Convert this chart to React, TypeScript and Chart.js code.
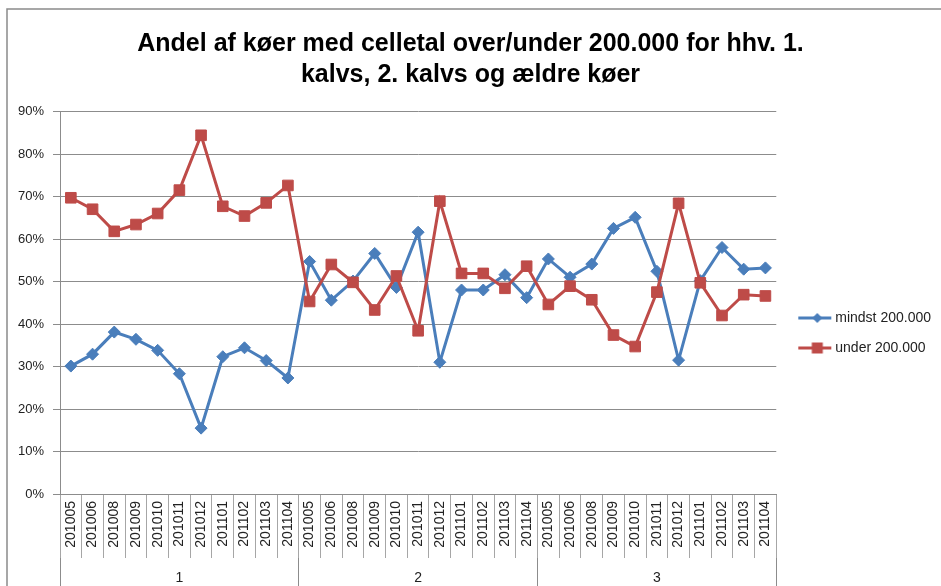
import React, { useEffect, useRef } from 'react';
import { Chart, registerables } from 'chart.js';

Chart.register(...registerables);

const months = ['201005', '201006', '201008', '201009', '201010', '201011', '201012', '201101', '201102', '201103', '201104'];
const groups = ['1', '2', '3'];

const mindst = [
  30.1, 32.9, 38.1, 36.4, 33.8, 28.3, 15.5, 32.3, 34.4, 31.4, 27.3,
  54.7, 45.6, 50.1, 56.6, 48.6, 61.6, 31.0, 48.0, 48.0, 51.6, 46.2,
  55.3, 51.0, 54.1, 62.5, 65.1, 52.4, 31.5, 50.2, 58.0, 52.9, 53.2,
];
const under = [
  69.7, 67.0, 61.8, 63.4, 66.0, 71.5, 84.4, 67.7, 65.4, 68.5, 72.6,
  45.3, 54.0, 49.8, 43.3, 51.3, 38.4, 68.9, 51.9, 51.9, 48.4, 53.6,
  44.6, 48.9, 45.7, 37.4, 34.7, 47.5, 68.4, 49.7, 42.0, 46.9, 46.6,
];
const yTickValues = [0, 10, 20, 30, 40, 50, 60, 70, 80, 90];
const titleLines = ['Andel af køer med celletal over/under 200.000 for hhv. 1.', 'kalvs, 2. kalvs og ældre køer'];
const seriesNames = ['mindst 200.000', 'under 200.000'];

const categories = groups.flatMap(() => months);
const groupLabels = groups.flatMap((g) => months.map((_, i) => (i === Math.floor(months.length / 2) ? g : '')));

const BLUE = '#4A7EBB';
const RED = '#BE4B48';
const FAMILY = '"Liberation Sans", Arial, sans-serif';

function legendIcon(color: string, kind: 'diamond' | 'square'): HTMLCanvasElement {
  const c = document.createElement('canvas');
  c.width = 48;
  c.height = 16;
  const g = c.getContext('2d')!;
  g.strokeStyle = color;
  g.lineWidth = 3;
  g.beginPath();
  g.moveTo(12, 8);
  g.lineTo(45, 8);
  g.stroke();
  g.fillStyle = color;
  g.beginPath();
  if (kind === 'diamond') {
    g.moveTo(31 - 5, 8);
    g.lineTo(31, 3);
    g.lineTo(31 + 5, 8);
    g.lineTo(31, 13);
    g.closePath();
  } else {
    g.rect(31 - 5.5, 8 - 5.5, 11, 11);
  }
  g.fill();
  return c;
}

const framePlugin = {
  id: 'frame',
  beforeDraw(chart: any) {
    const { ctx } = chart;
    ctx.save();
    ctx.fillStyle = '#ffffff';
    ctx.fillRect(0, 0, chart.width, chart.height);
    ctx.strokeStyle = '#8a8a8a';
    ctx.lineWidth = 1.5;
    ctx.strokeRect(7, 9, chart.width + 20, chart.height + 20);
    ctx.restore();
  },
};

export default function App() {
  const ref = useRef<HTMLCanvasElement | null>(null);

  useEffect(() => {
    if (!ref.current) return;
    const icons = [legendIcon(BLUE, 'diamond'), legendIcon(RED, 'square')];
    const chart = new Chart(ref.current, {
      type: 'line',
      data: {
        labels: categories,
        datasets: [
          {
            label: seriesNames[0],
            data: mindst,
            borderColor: BLUE,
            backgroundColor: BLUE,
            borderWidth: 3,
            pointStyle: 'rectRot',
            pointRadius: 6,
            pointBorderWidth: 1,
            pointBackgroundColor: BLUE,
            pointBorderColor: BLUE,
            tension: 0,
            order: 1,
          },
          {
            label: seriesNames[1],
            data: under,
            borderColor: RED,
            backgroundColor: RED,
            borderWidth: 3,
            pointStyle: 'rect',
            pointRadius: 7.5,
            pointBorderWidth: 1,
            pointBackgroundColor: RED,
            pointBorderColor: RED,
            tension: 0,
            order: 0,
          },
        ],
      },
      options: {
        responsive: false,
        animation: false,
        layout: { padding: { left: 0, right: 0, top: 0, bottom: 0 } },
        font: { family: FAMILY },
        plugins: {
          tooltip: { enabled: false },
          title: {
            display: true,
            text: titleLines,
            color: '#000',
            font: { family: FAMILY, size: 25, weight: 'bold', lineHeight: 1.25 },
            padding: { top: 28, bottom: 21 },
          },
          legend: {
            display: true,
            position: 'right',
            align: 'center',
            title: { display: true, text: '', padding: { top: 79, bottom: 0 }, font: { size: 1, lineHeight: 1 } },
            labels: {
              usePointStyle: true,
              pointStyleWidth: 36,
              padding: 16,
              color: '#222',
              font: { family: FAMILY, size: 14 },
              sort: (a: any, b: any) => a.datasetIndex - b.datasetIndex,
              generateLabels: (ch: any) => {
                const items = (Chart.defaults.plugins.legend.labels as any).generateLabels(ch);
                items.forEach((it: any) => {
                  it.pointStyle = icons[it.datasetIndex];
                });
                return items;
              },
            },
          },
        },
        scales: {
          y: {
            min: 0,
            max: 90,
            afterBuildTicks: (s: any) => {
              s.ticks = yTickValues.map((v) => ({ value: v }));
            },
            afterFit: (s: any) => {
              s.width = 60;
            },
            ticks: {
              callback: (v: any) => v + '%',
              color: '#222',
              font: { family: FAMILY, size: 13 },
              padding: 9,
            },
            grid: { color: '#8c8c8c', tickLength: 7, lineWidth: 1 },
            border: { color: '#8c8c8c', width: 1 },
          },
          x: {
            type: 'category',
            position: 'bottom',
            offset: true,
            weight: 0,
            afterFit: (s: any) => {
              s.height = 64;
            },
            grid: { offset: true, drawOnChartArea: false, tickLength: 64, color: '#a6a6a6' },
            border: { display: true, color: '#8c8c8c' },
            ticks: {
              autoSkip: false,
              minRotation: 90,
              maxRotation: 90,
              padding: -57,
              color: '#222',
              font: { family: FAMILY, size: 14 },
            },
          },
          x2: {
            type: 'category',
            position: 'bottom',
            labels: groupLabels,
            offset: true,
            weight: 1,
            afterFit: (s: any) => {
              s.height = 28;
            },
            grid: {
              offset: true,
              drawOnChartArea: false,
              tickLength: 28,
              color: (c: any) => (c.index === undefined || c.index % months.length === 0 ? '#8c8c8c' : 'rgba(0,0,0,0)'),
            },
            border: { display: false },
            ticks: {
              autoSkip: false,
              maxRotation: 0,
              minRotation: 0,
              padding: -16,
              color: '#222',
              font: { family: FAMILY, size: 14 },
            },
          },
        },
      } as any,
      plugins: [framePlugin],
    });
    return () => chart.destroy();
  }, []);

  return (
    <div style={{ position: 'fixed', left: 0, top: 0, width: 941, height: 586, background: '#fff' }}>
      <canvas ref={ref} width={941} height={586} style={{ display: 'block' }} />
    </div>
  );
}
